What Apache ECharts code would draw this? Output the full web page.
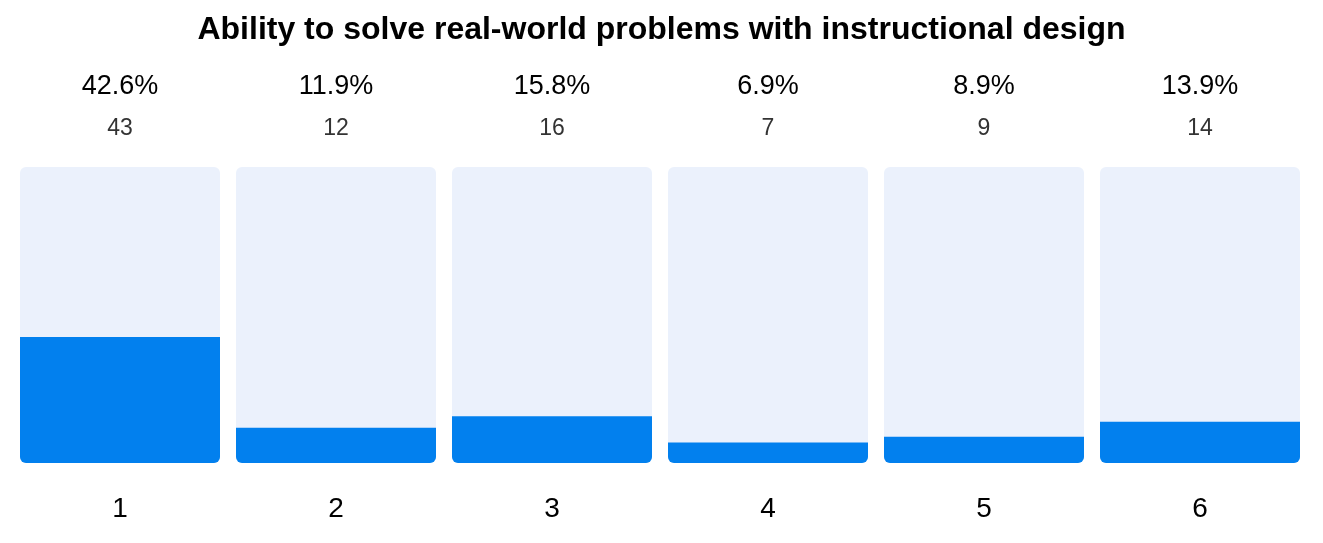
<!DOCTYPE html>
<html>
<head>
<meta charset="utf-8">
<script src="https://cdn.jsdelivr.net/npm/echarts@6/dist/echarts.min.js"></script>
<style>
  html, body { margin: 0; padding: 0; background: #fff; }
  #chart { width: 1323px; height: 543px; }
</style>
</head>
<body>
<div id="chart"></div>
<script>
// data
const categories = ['1', '2', '3', '4', '5', '6'];
const percents = [42.6, 11.9, 15.8, 6.9, 8.9, 13.9];
const counts = [43, 12, 16, 7, 9, 14];
const fullScale = [100, 100, 100, 100, 100, 100];

const chart = echarts.init(document.getElementById('chart'));

const option = {
    animation: false,
    title: {
        text: 'Ability to solve real-world problems with instructional design',
        left: 'center',
        top: 9,
        textStyle: { fontFamily: 'Liberation Sans', fontSize: 32, fontWeight: 'bold', color: '#000' }
    },
    grid: { left: 12, right: 15, top: 167, bottom: 80 },
    xAxis: {
        type: 'category',
        data: categories,
        axisLine: { show: false },
        axisTick: { show: false },
        axisLabel: { fontFamily: 'Liberation Sans', fontSize: 28, color: '#000', margin: 32 }
    },
    yAxis: { type: 'value', min: 0, max: 100, show: false },
    series: [
        {
            // light track behind each bar, carries the labels
            type: 'bar',
            data: fullScale,
            barWidth: 200,
            barGap: '-100%',
            silent: true,
            itemStyle: { color: '#EBF1FC', borderRadius: 6 },
            label: {
                show: true,
                position: 'top',
                distance: 25,
                formatter: (p) => '{p|' + percents[p.dataIndex].toFixed(1) + '%}\n{c|' + counts[p.dataIndex] + '}',
                rich: {
                    p: { fontFamily: 'Liberation Sans', fontSize: 27, color: '#000', lineHeight: 58 },
                    c: { fontFamily: 'Liberation Sans', fontSize: 23, color: '#333', lineHeight: 26 }
                }
            }
        },
        {
            type: 'bar',
            data: percents,
            barWidth: 200,
            itemStyle: { color: '#0280EE', borderRadius: [0, 0, 6, 6] }
        }
    ]
};

chart.setOption(option);
</script>
</body>
</html>
